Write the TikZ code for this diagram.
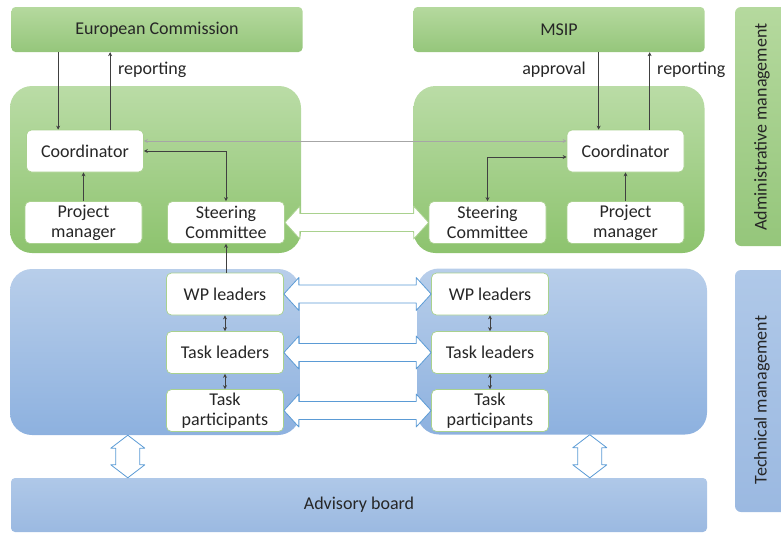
\documentclass[tikz,border=0pt]{standalone}
\usepackage{fontspec}
\setmainfont{Carlito}
\usetikzlibrary{positioning, calc, arrows.meta}
\usepackage{xcolor}
\definecolor{PartnerTop}{HTML}{B5D99E}
\definecolor{PartnerBot}{HTML}{95C67B}
\definecolor{AdmTop}{HTML}{BADCA6}
\definecolor{AdmBot}{HTML}{8DC36E}
\definecolor{TechTop}{HTML}{B8CEEA}
\definecolor{TechBot}{HTML}{8DB1DF}
\definecolor{BoardTop}{HTML}{AFC8E8}
\definecolor{BoardBot}{HTML}{9BB9E1}
\definecolor{UnitLine}{HTML}{A9D18E}
\definecolor{BlockBlue}{HTML}{5B9BD5}
\definecolor{InkGray}{HTML}{262626}
\definecolor{WireGray}{HTML}{404040}
\definecolor{LinkGray}{HTML}{A6A6A6}

% hollow double arrows between two points (horizontal / vertical)
\newcommand{\hdbl}[3][]{%
  \draw[#1] (#2) -- ++(15,-16.5) -- ++(0,7.5) -- ($(#3)+(-15,-9)$) -- ++(0,-7.5)
    -- (#3) -- ++(-15,16.5) -- ++(0,-7.5) -- ($(#2)+(15,9)$) -- ++(0,7.5) -- cycle;}
\newcommand{\vdbl}[3][]{%
  \draw[#1] (#2) -- ++(-17,13) -- ++(5,0) -- ($(#3)+(-12,-13)$) -- ++(-5,0)
    -- (#3) -- ++(17,-13) -- ++(-5,0) -- ($(#2)+(12,13)$) -- ++(5,0) -- cycle;}

\begin{document}
\begin{tikzpicture}[x=1pt, y=-1pt,
  txt/.style={font=\fontsize{18}{20}\selectfont, text=InkGray},
  partner/.style={txt, rounded corners=4pt, top color=PartnerTop, bottom color=PartnerBot,
    minimum width=291pt, minimum height=45pt},
  admbox/.style={rounded corners=22pt, top color=AdmTop, bottom color=AdmBot,
    minimum width=291pt, minimum height=167pt},
  techbox/.style={rounded corners=22pt, top color=TechTop, bottom color=TechBot,
    minimum width=290pt, minimum height=166pt},
  sidebar/.style={rounded corners=6pt, minimum width=64pt},
  unit/.style={txt, draw=UnitLine, line width=0.7pt, fill=white, rounded corners=5pt,
    minimum width=117pt, minimum height=42pt, inner sep=1pt, align=center},
  lbl/.style={txt, inner sep=0pt},
  arr/.style={-{Stealth[length=4pt, width=4pt]}, WireGray, line width=0.6pt},
  arr2/.style={{Stealth[length=4pt, width=4pt]}-{Stealth[length=4pt, width=4pt]}, WireGray, line width=0.6pt},
  link/.style={{Stealth[length=4pt, width=4pt]}-{Stealth[length=4pt, width=4pt]}, LinkGray, line width=0.6pt},
  greenblk/.style={draw=UnitLine, fill=white, line width=0.8pt, line join=round},
  blueblk/.style={draw=BlockBlue, fill=white, line width=0.8pt, line join=round}
]
  \clip (0,0) rectangle (781,533);

  % Funding bodies
  \node[partner] (ec) at (157,29.5) {European Commission};
  \node[partner] (msip) at (559,29.5) {MSIP};

  % Side bars
  \node[sidebar, top color=PartnerTop, bottom color=PartnerBot, minimum height=239pt] (admside) at (767,126.5) {};
  \node[lbl, rotate=90] (admtxt) at (762,127) {Administrative management};
  \node[sidebar, top color=BoardTop, bottom color=BoardBot, minimum height=242pt] (techside) at (767,391) {};
  \node[lbl, rotate=90] (techtxt) at (762,400) {Technical management};

  % Administrative level
  \node[admbox] (admL) at (155.5,169.5) {};
  \node[admbox] (admR) at (559,169.5) {};
  \node[unit] (coordL) at (85,151) {Coordinator};
  \node[unit] (pmL) at (83.5,222.5) {Project\\manager};
  \node[unit] (steerL) at (226,222.5) {Steering\\Committee};
  \node[unit] (coordR) at (625.5,151) {Coordinator};
  \node[unit] (steerR) at (487.5,222.5) {Steering\\Committee};
  \node[unit] (pmR) at (625.5,222.5) {Project\\manager};

  % Technical level
  \node[techbox] (techL) at (155,352) {};
  \node[techbox] (techR) at (562,351.5) {};
  \node[unit] (wpL) at (225,294) {WP leaders};
  \node[unit] (tlL) at (225,352.5) {Task leaders};
  \node[unit] (tpL) at (225,410.5) {Task\\participants};
  \node[unit] (wpR) at (490,294) {WP leaders};
  \node[unit] (tlR) at (490,352.5) {Task leaders};
  \node[unit] (tpR) at (490,410.5) {Task\\participants};

  \node[txt, rounded corners=4pt, top color=BoardTop, bottom color=BoardBot,
    minimum width=696pt, minimum height=54pt] (adv) at (359,505) {Advisory board};

  % Reporting lines
  \coordinate (inL) at ($(coordL.north west)+(32,0)$);
  \coordinate (repL) at ($(coordL.north west)+(84,0)$);
  \coordinate (inR) at ($(coordR.north west)+(32,0)$);
  \coordinate (repR) at ($(coordR.north west)+(83,0)$);
  \draw[arr] (inL |- ec.south) -- (inL);
  \draw[arr] (repL) -- (repL |- ec.south);
  \draw[arr] (inR |- msip.south) -- (inR);
  \draw[arr] (repR) -- (repR |- msip.south);
  \node[lbl, anchor=west] (repLtxt) at (118,70) {reporting};
  \node[lbl, anchor=east] (apprtxt) at (586,70) {approval};
  \node[lbl, anchor=west] (repRtxt) at (657,70) {reporting};

  \draw[arr] (pmL.north) -- (pmL.north |- coordL.south);
  \draw[arr] (pmR.north) -- (pmR.north |- coordR.south);
  \draw[arr2] (coordL.east) -| (steerL.north);
  \draw[arr2] ($(coordR.west)+(0,6)$) -| (steerR.north);
  \draw[link] ($(coordL.east)+(0,-10)$) -- ($(coordR.west)+(0,-10)$);
  \draw[arr] (steerL.south |- wpL.north) -- (steerL.south);

  % Inside the work packages
  \draw[arr2] (wpL.south) -- (tlL.north);
  \draw[arr2] (tlL.south) -- (tpL.north);
  \draw[arr2] (wpR.south) -- (tlR.north);
  \draw[arr2] (tlR.south) -- (tpR.north);

  % Exchange between partners
  \hdbl[greenblk]{steerL.east}{steerR.west}
  \hdbl[blueblk]{wpL.east}{wpR.west}
  \hdbl[blueblk]{tlL.east}{tlR.west}
  \hdbl[blueblk]{tpL.east}{tpR.west}

  \coordinate (vL) at ($(techL.south west)+(118,0)$);
  \coordinate (vR) at ($(techR.south west)+(173,0)$);
  \coordinate (vLb) at (vL |- adv.north);
  \coordinate (vRb) at (vR |- adv.north);
  \vdbl[blueblk]{vL}{vLb}
  \vdbl[blueblk]{vR}{vRb}
\end{tikzpicture}
\end{document}
